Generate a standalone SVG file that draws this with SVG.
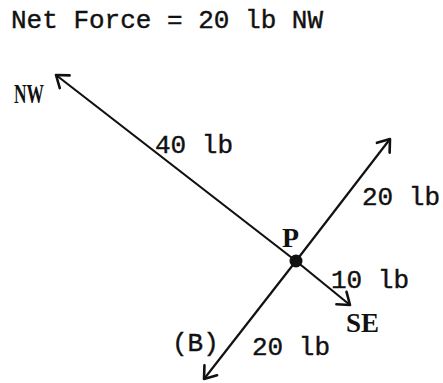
<svg xmlns="http://www.w3.org/2000/svg" width="443" height="383" viewBox="0 0 443 383">
  <style>
    .t { font-family: "Liberation Mono", "DejaVu Sans Mono", monospace; font-size: 26px; fill: #111; stroke: #111; stroke-width: 0.4px; }
    .b { font-family: "Liberation Serif", "DejaVu Serif", serif; font-size: 27px; font-weight: bold; fill: #111; }
    .ln { stroke: #111; stroke-width: 2.2; fill: none; marker-end: url(#arr); }
  </style>
  <defs>
    <marker id="arr" markerUnits="userSpaceOnUse" markerWidth="30" markerHeight="30" viewBox="-15 -15 30 30" refX="0" refY="0" orient="auto">
      <path d="M -11 -8 L 0 0 L -11 8" fill="none" stroke="#111" stroke-width="2.6" stroke-linecap="round" stroke-linejoin="round"/>
    </marker>
  </defs>
  <rect width="443" height="383" fill="#fff"/>
  <g id="title"><text class="t" x="11" y="28">Net Force = 20 lb NW</text></g>
  <g id="connectors">
    <line class="ln" x1="296" y1="261" x2="56" y2="75"/>
    <line class="ln" x1="296" y1="261" x2="350" y2="305"/>
    <line class="ln" x1="296" y1="261" x2="390" y2="139"/>
    <line class="ln" x1="296" y1="261" x2="204" y2="379"/>
  </g>
  <g id="P">
    <circle cx="296" cy="261" r="6.5" fill="#111"/>
    <text class="b" x="282" y="247" textLength="17" lengthAdjust="spacingAndGlyphs">P</text>
  </g>
  <g id="NW"><text class="b" x="14" y="103" textLength="30" lengthAdjust="spacingAndGlyphs">NW</text></g>
  <g id="SE"><text class="b" x="346" y="332" textLength="33" lengthAdjust="spacingAndGlyphs">SE</text></g>
  <g id="f40"><text class="t" x="155" y="153">40 lb</text></g>
  <g id="f20ne"><text class="t" x="362" y="205">20 lb</text></g>
  <g id="f10"><text class="t" x="331" y="288">10 lb</text></g>
  <g id="f20sw"><text class="t" x="252" y="355">20 lb</text></g>
  <g id="B"><text class="t" x="172" y="351">(B)</text></g>
</svg>
